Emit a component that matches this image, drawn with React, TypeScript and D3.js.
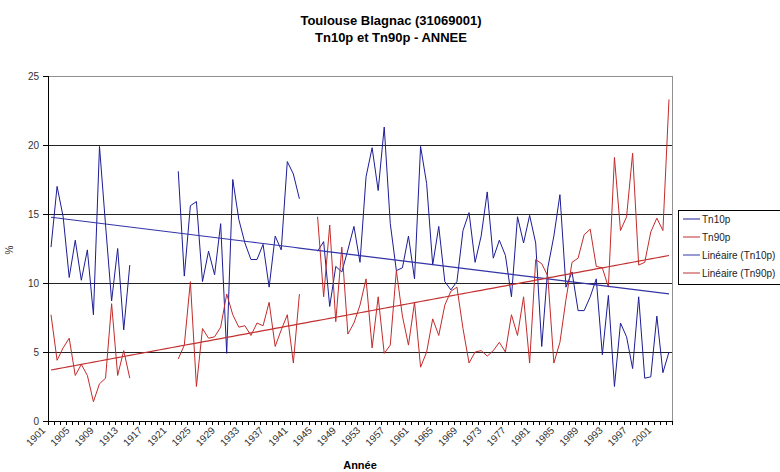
import { range, scaleBand, scaleLinear, line } from 'd3';

// Toulouse Blagnac, yearly Tn10p / Tn90p (%), gaps are missing years
const years = range(1901, 2004);

const tn10p: (number | null)[] = [
  12.6, 17.0, 14.8, 10.4, 13.1, 10.2, 12.4, 7.7, 19.9, 14.2,
  8.7, 12.5, 6.6, 11.3, null, null, null, null, null, null,
  null, 18.1, 10.5, 15.6, 15.9, 10.1, 12.3, 10.6, 14.3, 4.9,
  17.5, 14.6, 12.9, 11.7, 11.7, 12.8, 9.7, 13.4, 12.4, 18.8,
  17.9, 16.1, null, null, 12.3, 13.0, 8.3, 11.2, 10.8, 12.4,
  14.1, 11.5, 17.7, 19.8, 16.7, 21.3, 14.3, 10.9, 11.1, 13.4,
  10.3, 19.9, 17.2, 11.3, 14.1, 10.1, 9.5, 10.1, 13.8, 15.1,
  11.5, 13.4, 16.6, 11.8, 13.1, 12.0, 9.0, 14.8, 12.9, 14.9,
  12.9, 5.4, 11.1, 13.4, 16.4, 9.7, 10.8, 8.0, 8.0, 9.0,
  10.3, 4.8, 9.1, 2.5, 7.1, 6.1, 3.8, 9.0, 3.1, 3.2,
  7.6, 3.5, 5.0,
];

const tn90p: (number | null)[] = [
  7.7, 4.4, 5.3, 6.0, 3.3, 4.1, 3.3, 1.4, 2.7, 3.1,
  8.5, 3.3, 5.1, 3.1, null, null, null, null, null, null,
  null, 4.5, 5.5, 10.1, 2.5, 6.7, 6.0, 6.1, 6.8, 9.2,
  7.7, 6.8, 6.9, 6.2, 7.1, 6.9, 8.6, 5.4, 6.6, 7.7,
  4.2, 9.2, null, null, 14.8, 9.0, 14.2, 7.2, 12.6, 6.3,
  7.1, 8.4, 10.3, 5.3, 9.0, 4.9, 5.5, 10.9, 7.6, 5.5,
  8.6, 3.9, 5.0, 7.4, 6.2, 8.4, 9.4, 9.7, 6.7, 4.2,
  5.0, 5.1, 4.7, 5.1, 5.7, 5.0, 7.7, 6.2, 9.0, 4.2,
  11.7, 11.4, 10.5, 4.2, 5.7, 8.8, 11.5, 11.8, 13.5, 13.9,
  11.2, 11.1, 9.7, 19.1, 13.8, 14.8, 19.4, 11.3, 11.5, 13.7,
  14.7, 13.8, 23.3,
];

const yTicks = [0, 5, 10, 15, 20, 25];
const yearLabels = years.filter((_, i) => i % 4 === 0);

const seriesNames = ['Tn10p', 'Tn90p', 'Linéaire (Tn10p)', 'Linéaire (Tn90p)'];
const BLUE = '#1c1c96';
const RED = '#c42a2a';
const seriesColors = [BLUE, RED, '#3535a8', '#c23030'];

const W = 780;
const H = 472;
const m = { left: 48, right: 672, top: 76, bottom: 421 };

// least squares on category index, skipping gaps (like Excel trendline)
function trend(vals: (number | null)[]) {
  const pts = vals.map((v, i) => [i + 1, v] as [number, number | null]).filter(p => p[1] != null) as [number, number][];
  const n = pts.length;
  const mx = pts.reduce((s, p) => s + p[0], 0) / n;
  const my = pts.reduce((s, p) => s + p[1], 0) / n;
  let num = 0, den = 0;
  pts.forEach(([x, y]) => { num += (x - mx) * (y - my); den += (x - mx) * (x - mx); });
  const b = num / den;
  const a = my - b * mx;
  return vals.map((_, i) => a + b * (i + 1));
}

const App = () => {
  const x = scaleBand<number>().domain(years).range([m.left, m.right]).padding(0);
  const y = scaleLinear().domain([0, 25]).range([m.bottom, m.top]);
  const cx = (yr: number) => x(yr)! + x.bandwidth() / 2;

  const mkLine = line<number | null>()
    .defined(d => d != null)
    .x((_, i) => cx(years[i]))
    .y(d => y(d as number));

  const t10 = trend(tn10p);
  const t90 = trend(tn90p);
  const font = "'Liberation Sans', Arial, sans-serif";

  return (
    <svg width={W} height={H} style={{ position: 'absolute', left: 0, top: 0, background: '#fff' }} fontFamily={font}>
      <rect width={W} height={H} fill="#fff" />
      <text x={391} y={25} textAnchor="middle" fontSize={13} fontWeight="bold">Toulouse Blagnac (31069001)</text>
      <text x={391} y={42} textAnchor="middle" fontSize={13} fontWeight="bold">Tn10p et Tn90p - ANNEE</text>

      {/* plot border */}
      <line x1={m.left} x2={m.right} y1={m.top + 0.5} y2={m.top + 0.5} stroke="#909090" />
      <line x1={m.right + 0.5} x2={m.right + 0.5} y1={m.top} y2={m.bottom} stroke="#909090" />

      {/* grid */}
      {yTicks.filter(t => t > 0 && t < 25).map(t => (
        <line key={t} x1={m.left} x2={m.right} y1={Math.round(y(t)) + 0.5} y2={Math.round(y(t)) + 0.5} stroke="#222" />
      ))}

      {/* y axis */}
      <line x1={m.left + 0.5} x2={m.left + 0.5} y1={m.top} y2={m.bottom} stroke="#000" />
      {yTicks.map(t => (
        <g key={t}>
          <line x1={m.left - 5} x2={m.left} y1={Math.round(y(t)) + 0.5} y2={Math.round(y(t)) + 0.5} stroke="#000" />
          <text x={39} y={y(t) + 3.5} textAnchor="end" fontSize={10} fill="#333">{t}</text>
        </g>
      ))}
      <text transform={`translate(13,250) rotate(-90)`} textAnchor="middle" fontSize={10} fill="#333">%</text>

      {/* x axis */}
      <line x1={m.left} x2={m.right + 1} y1={m.bottom + 0.5} y2={m.bottom + 0.5} stroke="#000" />
      {years.map(yr => (
        <line key={yr} x1={Math.round(x(yr)!) + 0.5} x2={Math.round(x(yr)!) + 0.5} y1={m.bottom} y2={m.bottom + 4} stroke="#000" />
      ))}
      <line x1={m.right + 0.5} x2={m.right + 0.5} y1={m.bottom} y2={m.bottom + 4} stroke="#000" />
      {yearLabels.map(yr => (
        <text key={yr} transform={`translate(${x(yr)! - 2},${m.bottom + 10}) rotate(-45)`} textAnchor="end" fontSize={10} fill="#333">{yr}</text>
      ))}
      <text x={(m.left + m.right) / 2} y={469} textAnchor="middle" fontSize={11} fontWeight="bold">Année</text>

      {/* series */}
      <path d={mkLine(tn10p) ?? ''} fill="none" stroke={BLUE} strokeWidth={1} />
      <path d={mkLine(tn90p) ?? ''} fill="none" stroke={RED} strokeWidth={1} />
      <path d={mkLine(t10) ?? ''} fill="none" stroke={seriesColors[2]} strokeWidth={1.2} />
      <path d={mkLine(t90) ?? ''} fill="none" stroke={seriesColors[3]} strokeWidth={1.2} />

      {/* legend */}
      <rect x={678.5} y={210.5} width={110} height={74} fill="#fff" stroke="#000" />
      {seriesNames.map((name, i) => {
        const ly = 219 + i * 18;
        return (
          <g key={name}>
            <line x1={683} x2={700} y1={ly} y2={ly} stroke={seriesColors[i]} />
            <text x={702} y={ly + 3.5} fontSize={10} fill="#222">{name}</text>
          </g>
        );
      })}
    </svg>
  );
};

export default App;
